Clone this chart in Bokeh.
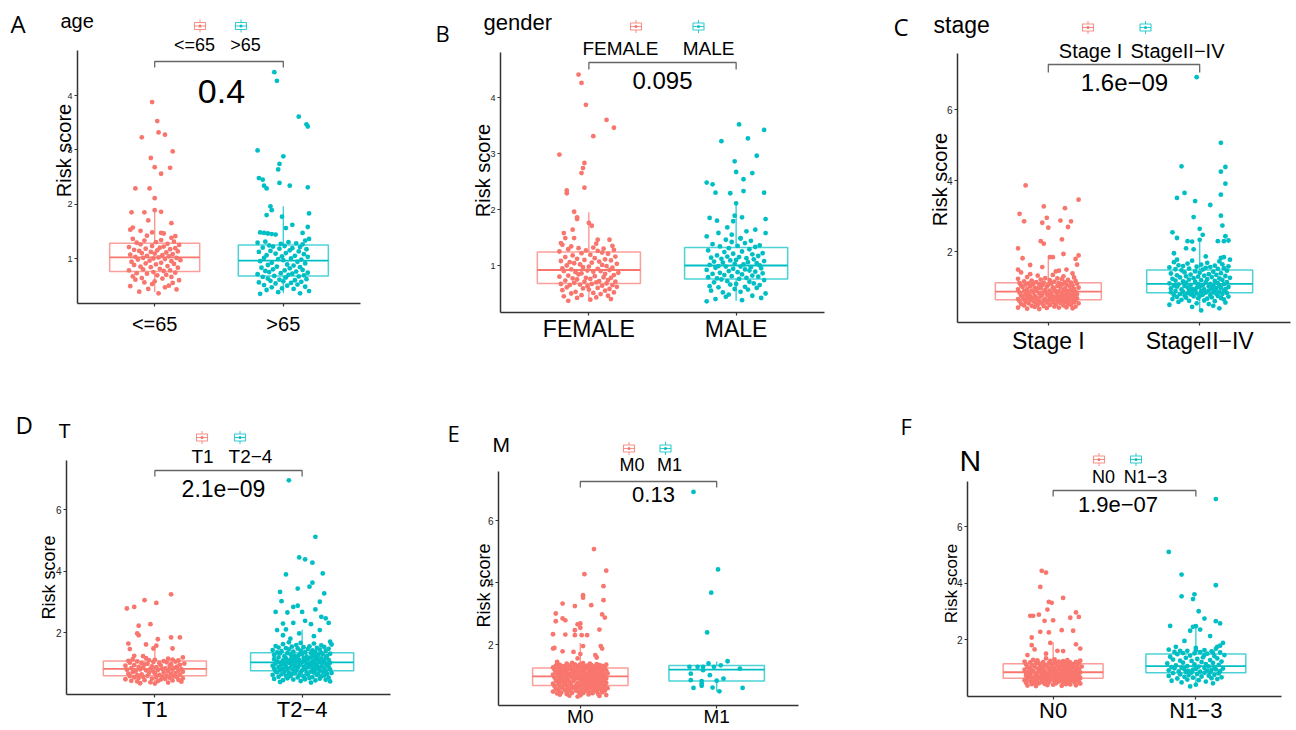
import math
from bokeh.plotting import figure
from bokeh.layouts import row, column
from bokeh.models import Range1d, FixedTicker, Label
from bokeh.embed import file_html
from bokeh.resources import INLINE

RED = "#F8766D"
TEAL = "#00BFC4"
AXIS = "#333333"
BRACKET = "#666666"
FONT = "Liberation Sans"
LETTER_FONT = "Open Sans"

# ------------------------------------------------------------------ data
# hand-typed horizontal jitter offsets (hundredths of a category unit)
JITTER = [3,-12,17,-5,8,-19,11,-2,14,-8,0,19,-15,6,-10,13,-17,2,9,-6,
          -14,16,-1,7,-20,12,-9,4,18,-3,-11,10,-16,1,15,-7,5,-18,13,-4,
          20,-13,8,-1,-9,17,3,-15,11,-6,6,-19,14,0,-10,9,-3,18,-12,2,
          -16,12,-7,16,4,-20,7,-2,19,-11,10,-14,1,15,-8,5,-17,13,-5,8,
          -12,3,17,-9,11,-18,0,14,-4,6,-15,19,-1,9,-13,16,-6,2,-19,12,
          -10,5,18,-3,7,-16,13,-8,1,-11,15,-2,10,-20,4,-14,17,-7,11,-5,
          20,-9,3,-17,8,-1,14,-12,6,-18,16,-4,0,12,-15,9,-6,19,-10,2,
          -13,7,-19,15,-3,11,-8,4,-16,18,-11,1,13,-5,9,-20,6,-2,17,-14,
          10,-7,3,-12,16,-18,5,-1,14,-9,8,-15,19,-4,0,12,-10,7,-17,2,
          -6,15,-13,11,-2,18,-8,4,-19,9,-5,13,-11,1,16,-16,6,-3,10,-7]

# ---- A: age
AGE_CATS = ["<=65", ">65"]
AGE_P = "0.4"
AGE_Q1 = [0.76, 0.68]
AGE_MED = [1.02, 0.96]
AGE_Q3 = [1.28, 1.25]
AGE_LO = [0.38, 0.36]
AGE_HI = [1.90, 1.96]
AGE_LE65_OUT_Y = [3.88,3.53,3.32,3.28,3.23,2.97,2.85,2.68,2.67,2.56,2.29,2.29,2.11,1.89,1.86,1.85,1.85,1.70,1.65,1.57,1.53,1.51,1.48,1.47,1.46,1.42,1.41]
AGE_LE65_OUT_DX = [-0.02,0.02,0.03,0.08,-0.10,0.14,-0.03,0.00,0.12,0.05,-0.15,-0.04,0.00,0.00,0.05,-0.18,-0.08,-0.05,0.13,-0.17,-0.19,-0.11,-0.02,0.05,0.07,-0.06,0.16]
AGE_LE65_CORE = [0.36,0.39,0.43,0.44,0.47,0.49,0.50,0.53,0.55,0.56,0.58,0.60,0.61,0.63,0.64,0.66,0.67,0.69,0.70,0.72,0.73,0.74,0.75,
                 0.77,0.78,0.78,0.80,0.81,0.83,0.84,0.85,0.86,0.88,0.89,0.90,0.91,0.92,0.94,0.95,0.96,0.97,0.98,0.99,1.00,1.01,1.01,1.02,
                 1.03,1.04,1.05,1.06,1.07,1.08,1.09,1.10,1.11,1.12,1.13,1.14,1.15,1.16,1.17,1.18,1.19,1.20,1.21,1.22,1.23,1.25,1.26,1.27,
                 1.29,1.30,1.31,1.33,1.34,1.36,1.38]
AGE_GT65_OUT_Y = [4.43,4.27,3.61,3.47,3.43,2.99,2.88,2.74,2.64,2.48,2.45,2.39,2.34,2.34,2.31,2.29,1.96,1.89,1.83,1.80,1.77,1.62,1.58,1.56,1.48,1.47,1.46,1.47,1.45,1.44,1.36]
AGE_GT65_OUT_DX = [-0.07,-0.05,0.12,0.18,0.19,-0.20,0.00,-0.03,-0.04,-0.19,-0.16,-0.03,-0.15,0.05,0.19,-0.13,-0.10,-0.09,0.20,-0.13,-0.01,0.07,0.19,0.02,-0.18,-0.15,-0.12,0.15,-0.09,-0.06,0.20]
AGE_GT65_CORE = [0.35,0.36,0.38,0.40,0.42,0.44,0.45,0.47,0.48,0.50,0.51,0.52,0.54,0.55,0.56,0.57,0.58,0.59,0.60,0.61,0.62,0.63,0.65,0.66,0.67,
                 0.68,0.69,0.70,0.71,0.72,0.73,0.74,0.75,0.76,0.77,0.78,0.79,0.80,0.82,0.83,0.84,0.85,0.87,0.88,0.89,0.91,0.92,0.94,0.95,
                 0.97,0.98,0.99,1.00,1.01,1.03,1.04,1.05,1.06,1.08,1.09,1.10,1.12,1.13,1.14,1.15,1.17,1.18,1.19,1.20,1.21,1.22,1.23,1.24,
                 1.26,1.27,1.28,1.29,1.30,1.31,1.33]

# ---- B: gender
GENDER_CATS = ["FEMALE", "MALE"]
GENDER_P = "0.095"
GENDER_Q1 = [0.68, 0.76]
GENDER_MED = [0.92, 1.00]
GENDER_Q3 = [1.24, 1.32]
GENDER_LO = [0.37, 0.37]
GENDER_HI = [1.95, 2.13]
FEMALE_OUT_Y = [4.41,4.26,3.87,3.60,3.46,3.31,2.98,2.83,2.74,2.65,2.39,2.34,2.29,1.96,1.86,1.83,1.76,1.71,1.64,1.58,1.49,1.49,1.46,1.46,1.40]
FEMALE_OUT_DX = [-0.07,-0.05,-0.02,0.12,0.17,0.03,-0.20,-0.03,-0.04,-0.05,-0.03,-0.15,-0.15,-0.10,-0.08,-0.08,0.00,0.02,-0.11,-0.17,-0.16,-0.10,0.06,0.14,-0.19]
FEMALE_CORE = [0.37,0.39,0.40,0.42,0.43,0.45,0.46,0.47,0.49,0.50,0.51,0.52,0.53,0.55,0.56,0.57,0.58,0.59,0.60,0.61,0.62,0.63,0.64,0.65,0.65,0.66,0.67,0.67,
               0.68,0.69,0.70,0.71,0.71,0.72,0.73,0.74,0.75,0.76,0.77,0.78,0.78,0.79,0.80,0.81,0.82,0.83,0.84,0.85,0.86,0.87,0.88,0.89,0.90,0.90,0.91,0.92,
               0.93,0.94,0.95,0.96,0.97,0.98,0.99,1.00,1.01,1.02,1.03,1.04,1.05,1.06,1.07,1.08,1.09,1.10,1.11,1.12,1.13,1.15,1.16,1.18,1.19,1.21,1.22,1.23,
               1.25,1.26,1.27,1.28,1.29,1.30,1.31,1.32,1.34,1.35,1.37,1.39]
MALE_OUT_Y = [3.52,3.42,3.27,3.22,2.96,2.86,2.67,2.65,2.54,2.48,2.45,2.33,2.30,2.30,2.29,2.11,1.89,1.86,1.85,1.83,1.80,1.79,1.68,1.64,1.61,1.58,1.58,1.55,1.52,1.48]
MALE_OUT_DX = [0.02,0.19,0.08,-0.10,0.14,-0.01,0.00,0.11,0.05,-0.20,-0.16,0.05,-0.14,0.19,-0.04,0.00,-0.01,0.04,-0.18,0.20,-0.13,-0.02,-0.06,0.13,0.07,0.20,-0.12,-0.03,-0.20,0.03]
MALE_CORE = [0.36,0.38,0.40,0.42,0.44,0.46,0.48,0.50,0.52,0.53,0.55,0.57,0.58,0.60,0.61,0.62,0.63,0.65,0.66,0.67,0.68,0.70,0.71,0.72,0.74,0.75,
             0.76,0.77,0.78,0.79,0.80,0.81,0.82,0.83,0.84,0.85,0.86,0.87,0.88,0.89,0.90,0.91,0.92,0.93,0.94,0.95,0.96,0.97,0.98,0.98,0.99,1.00,
             1.01,1.02,1.03,1.04,1.05,1.06,1.07,1.08,1.09,1.10,1.11,1.12,1.13,1.14,1.15,1.16,1.17,1.18,1.20,1.21,1.22,1.24,1.25,1.27,1.29,1.31,
             1.33,1.34,1.35,1.36,1.38,1.40,1.42,1.44,1.46,1.49]

# ---- C: stage
STAGE_CATS = ["Stage I", "StageII\u2212IV"]
STAGE_P = "1.6e\u221209"
STAGE_Q1 = [0.64, 0.84]
STAGE_MED = [0.87, 1.09]
STAGE_Q3 = [1.12, 1.48]
STAGE_LO = [0.39, 0.34]
STAGE_HI = [1.79, 2.31]
STAGE1_OUT_Y = [3.86,3.46,3.27,3.22,3.06,2.95,2.87,2.85,2.85,2.81,2.69,2.67,2.34,2.29,2.22,2.09,1.93,1.89,1.84,1.84,1.81,1.79,1.63,1.62,1.56,1.49,1.49,1.46]
STAGE1_OUT_DX = [-0.15,0.20,-0.03,0.11,-0.19,-0.01,0.08,-0.16,0.15,-0.04,0.13,0.00,0.09,-0.05,-0.03,-0.20,0.10,0.20,0.01,0.03,-0.17,0.18,0.19,-0.12,-0.04,-0.20,0.12,0.07]
STAGE1_CORE = [0.38,0.39,0.40,0.41,0.42,0.42,0.43,0.44,0.45,0.45,0.46,0.47,0.48,0.48,0.49,0.50,0.50,0.51,0.52,0.52,0.53,0.54,0.54,0.55,0.56,0.56,0.57,0.57,0.58,0.58,0.59,0.59,0.60,0.60,0.61,0.61,0.62,0.62,0.63,0.63,0.63,0.64,
               0.64,0.65,0.65,0.66,0.66,0.67,0.67,0.68,0.68,0.69,0.69,0.70,0.70,0.71,0.71,0.72,0.72,0.73,0.73,0.74,0.74,0.75,0.75,0.76,0.76,0.77,0.77,0.78,0.78,0.79,0.80,0.80,0.81,0.81,0.82,0.82,0.83,0.84,0.84,0.85,0.86,0.86,
               0.87,0.88,0.88,0.89,0.89,0.90,0.90,0.91,0.92,0.92,0.93,0.94,0.94,0.95,0.96,0.96,0.97,0.98,0.98,0.99,1.00,1.00,1.01,1.02,1.02,1.03,1.04,1.04,1.05,1.06,1.06,1.07,1.08,1.08,1.09,1.09,1.10,1.10,1.11,1.11,1.12,1.12,
               1.13,1.14,1.15,1.16,1.17,1.18,1.19,1.20,1.21,1.22,1.23,1.24,1.25,1.27,1.28,1.30,1.32,1.34,1.36,1.38,1.41,1.44]
STAGE24_OUT_Y = [6.91,5.06,4.40,4.38,4.25,3.91,3.65,3.60,3.51,3.42,3.31,3.01,2.97,2.73,2.64,2.54,2.47,2.43,2.38,2.33,2.31,2.29,2.29,2.29,2.28,2.09,2.06,1.95,1.86,1.84,1.82,1.77,1.77]
STAGE24_OUT_DX = [-0.02,0.14,-0.12,0.17,0.14,0.17,-0.10,0.14,-0.15,-0.03,0.07,0.14,-0.04,0.15,0.00,-0.18,0.02,0.17,-0.15,0.00,0.19,-0.08,0.12,0.16,-0.05,-0.09,-0.04,-0.17,0.04,0.16,0.14,0.20,-0.15]
STAGE24_CORE = [0.34,0.40,0.44,0.47,0.50,0.52,0.54,0.56,0.58,0.60,0.61,0.62,0.64,0.65,0.66,0.67,0.68,0.69,0.70,0.71,0.72,0.73,0.74,0.75,0.75,0.76,0.77,0.77,0.78,0.79,0.80,0.80,0.81,0.82,0.83,0.83,
                0.84,0.85,0.85,0.86,0.87,0.87,0.88,0.89,0.89,0.90,0.91,0.91,0.92,0.93,0.93,0.94,0.95,0.96,0.96,0.97,0.98,0.98,0.99,1.00,1.00,1.01,1.02,1.03,1.03,1.04,1.05,1.05,1.06,1.07,1.08,1.08,
                1.09,1.10,1.11,1.12,1.13,1.14,1.15,1.16,1.17,1.18,1.19,1.20,1.21,1.22,1.23,1.24,1.25,1.26,1.27,1.28,1.29,1.30,1.31,1.32,1.33,1.34,1.35,1.36,1.38,1.39,1.40,1.41,1.43,1.44,1.46,1.47,
                1.49,1.50,1.51,1.52,1.53,1.54,1.55,1.56,1.57,1.58,1.59,1.60,1.61,1.63,1.64,1.66,1.68,1.70,1.72,1.74]

# ---- D: T
T_CATS = ["T1", "T2\u22124"]
T_P = "2.1e\u221209"
T_Q1 = [0.59, 0.76]
T_MED = [0.82, 1.03]
T_Q3 = [1.07, 1.34]
T_LO = [0.34, 0.38]
T_HI = [1.60, 2.09]
T1_OUT_Y = [3.24,3.05,2.96,2.83,2.78,2.27,2.22,1.97,1.91,1.84,1.84,1.78,1.64,1.61,1.57,1.48,1.48,1.46,1.24,1.23]
T1_OUT_DX = [0.11,-0.07,0.01,-0.14,-0.19,-0.03,-0.11,-0.12,-0.11,0.11,0.17,0.02,-0.18,-0.06,0.01,-0.01,0.12,-0.17,-0.14,-0.08]
T1_CORE = [0.34,0.35,0.37,0.38,0.40,0.41,0.42,0.43,0.44,0.45,0.46,0.47,0.48,0.49,0.50,0.51,0.52,0.53,0.54,0.55,0.55,0.56,0.57,0.58,0.58,
           0.59,0.60,0.61,0.62,0.63,0.64,0.65,0.66,0.67,0.68,0.69,0.70,0.71,0.72,0.73,0.74,0.75,0.76,0.77,0.78,0.79,0.79,0.80,0.81,0.81,
           0.82,0.83,0.84,0.85,0.86,0.87,0.88,0.89,0.90,0.91,0.92,0.93,0.94,0.95,0.96,0.97,0.98,0.99,1.00,1.01,1.02,1.03,1.04,1.05,1.06,
           1.07,1.08,1.09,1.10,1.11,1.12,1.13,1.15,1.17,1.19]
T24_OUT_Y = [6.95,5.11,4.44,4.38,4.27,3.92,3.89,3.62,3.49,3.43,3.32,3.27,3.02,3.00,2.87,2.83,2.75,2.67,2.67,2.65,2.51,2.46,2.38,2.31,2.31,2.29,2.27,2.10,2.08,2.08,1.97,1.91,1.88,1.80,1.70]
T24_OUT_DX = [-0.09,0.09,-0.02,0.02,0.07,0.14,-0.11,0.07,0.05,-0.03,-0.15,0.15,-0.14,0.12,-0.03,-0.06,0.09,-0.18,0.00,-0.10,0.13,0.16,0.02,0.18,-0.06,-0.13,0.06,-0.11,-0.17,0.12,-0.02,-0.13,0.08,-0.08,0.19]
T24_CORE = [0.37,0.39,0.41,0.42,0.44,0.45,0.46,0.47,0.48,0.49,0.50,0.51,0.52,0.53,0.54,0.55,0.56,0.57,0.58,0.58,0.59,0.60,0.61,0.62,0.62,0.63,0.64,0.65,0.65,0.66,0.67,0.68,0.68,0.69,0.70,0.70,0.71,0.72,0.72,0.73,0.74,0.75,
            0.76,0.77,0.77,0.78,0.79,0.79,0.80,0.81,0.81,0.82,0.83,0.83,0.84,0.85,0.85,0.86,0.87,0.87,0.88,0.89,0.89,0.90,0.91,0.91,0.92,0.93,0.93,0.94,0.95,0.95,0.96,0.97,0.97,0.98,0.99,0.99,1.00,1.00,1.01,1.01,1.02,1.02,
            1.03,1.04,1.04,1.05,1.06,1.06,1.07,1.08,1.08,1.09,1.10,1.10,1.11,1.12,1.13,1.13,1.14,1.15,1.16,1.16,1.17,1.18,1.19,1.19,1.20,1.21,1.22,1.22,1.23,1.24,1.25,1.26,1.27,1.27,1.28,1.29,1.30,1.30,1.31,1.32,1.33,1.33,
            1.34,1.35,1.36,1.37,1.38,1.39,1.40,1.41,1.42,1.43,1.44,1.45,1.46,1.47,1.48,1.49,1.50,1.51,1.52,1.53,1.54,1.55,1.56,1.58,1.59,1.61,1.62,1.64,1.66,1.68]

# ---- E: M
M_CATS = ["M0", "M1"]
M_P = "0.13"
M_Q1 = [0.68, 0.82]
M_MED = [0.97, 1.19]
M_Q3 = [1.24, 1.32]
M_LO = [0.32, 0.48]
M_HI = [2.05, 1.45]
M0_OUT_Y = [5.08,4.38,4.27,3.88,3.59,3.51,3.43,3.32,3.27,3.24,3.00,2.97,2.87,2.84,2.78,2.75,2.68,2.65,2.54,2.48,2.46,2.33,2.32,2.30,2.30,2.30,1.95,1.95,1.89,1.87,1.87,1.78,1.76,1.69,1.66,1.58,1.55,1.44]
M0_OUT_DX = [0.10,0.19,0.03,0.17,0.02,0.02,0.17,-0.13,0.08,-0.04,-0.18,0.16,0.18,-0.13,-0.11,-0.18,0.00,-0.02,0.00,0.14,-0.04,-0.20,-0.11,-0.04,0.01,0.05,0.02,0.15,-0.19,-0.20,0.16,-0.13,-0.05,0.00,0.11,0.12,-0.02,-0.17]
M0_CORE = [0.32,0.34,0.35,0.36,0.37,0.38,0.39,0.40,0.41,0.42,0.43,0.43,0.44,0.45,0.46,0.46,0.47,0.48,0.49,0.49,0.50,0.51,0.51,0.52,0.53,0.53,0.54,0.55,0.55,0.56,0.57,0.57,0.58,0.59,0.59,0.60,0.61,0.61,0.62,0.63,0.63,0.64,0.64,0.65,0.66,0.66,0.67,0.67,
           0.68,0.69,0.69,0.70,0.70,0.71,0.72,0.72,0.73,0.73,0.74,0.75,0.75,0.76,0.76,0.77,0.78,0.78,0.79,0.79,0.80,0.81,0.81,0.82,0.82,0.83,0.84,0.84,0.85,0.85,0.86,0.87,0.87,0.88,0.88,0.89,0.90,0.90,0.91,0.91,0.92,0.93,0.93,0.94,0.94,0.95,0.96,0.96,
           0.97,0.98,0.98,0.99,0.99,1.00,1.00,1.01,1.02,1.02,1.03,1.03,1.04,1.04,1.05,1.06,1.06,1.07,1.07,1.08,1.08,1.09,1.10,1.10,1.11,1.11,1.12,1.12,1.13,1.14,1.14,1.15,1.15,1.16,1.16,1.17,1.18,1.18,1.19,1.19,1.20,1.20,1.21,1.22,1.22,1.23,1.23,1.24,
           1.24,1.25,1.25,1.26,1.26,1.27,1.27,1.28,1.28,1.29,1.29,1.30,1.30,1.31,1.31,1.32,1.32,1.33,1.33,1.34,1.34,1.35,1.36,1.36,1.37,1.38,1.38,1.39,1.40,1.41]
M1_OUT_Y = [6.92,4.42,3.67,2.39,1.46,1.39,1.33,1.28,1.28,1.28,1.28,1.22,1.17,1.06,1.01,0.90,0.85,0.83,0.82,0.74,0.67,0.61,0.60,0.60,0.49]
M1_OUT_DX = [-0.17,0.01,-0.04,-0.07,0.08,-0.06,0.03,-0.02,-0.20,-0.14,-0.10,0.17,-0.10,-0.19,-0.05,0.05,-0.19,0.00,-0.11,-0.11,-0.11,-0.03,-0.17,0.19,0.02]
M1_CORE = []

# ---- F: N
N_CATS = ["N0", "N1\u22123"]
N_P = "1.9e\u221207"
N_Q1 = [0.63, 0.82]
N_MED = [0.84, 1.06]
N_Q3 = [1.14, 1.49]
N_LO = [0.35, 0.34]
N_HI = [1.90, 2.50]
N0_OUT_Y = [4.43,4.37,3.86,3.47,3.33,3.30,3.06,2.96,2.88,2.84,2.84,2.80,2.77,2.68,2.66,2.33,2.31,2.27,2.25,2.07,1.88,1.83,1.80,1.68,1.65,1.60,1.59,1.50,1.45,1.33]
N0_OUT_DX = [-0.08,-0.05,-0.09,0.07,-0.03,-0.01,-0.04,0.16,-0.10,-0.16,-0.14,0.18,0.12,0.00,-0.06,0.06,0.14,-0.09,-0.03,-0.15,-0.02,0.16,-0.15,0.19,-0.13,0.03,0.07,-0.05,-0.18,-0.05]
N0_CORE = [0.35,0.36,0.37,0.38,0.39,0.40,0.41,0.42,0.42,0.43,0.44,0.45,0.45,0.46,0.47,0.47,0.48,0.49,0.49,0.50,0.51,0.51,0.52,0.53,0.53,0.54,0.55,0.55,0.56,0.56,0.57,0.57,0.58,0.58,0.59,0.59,0.60,0.60,0.61,0.61,0.62,0.62,
           0.63,0.63,0.64,0.64,0.65,0.65,0.66,0.66,0.67,0.67,0.68,0.68,0.69,0.69,0.70,0.70,0.71,0.71,0.72,0.72,0.73,0.73,0.74,0.74,0.75,0.75,0.76,0.76,0.77,0.77,0.78,0.78,0.79,0.79,0.80,0.80,0.81,0.81,0.82,0.82,0.83,0.83,
           0.84,0.85,0.85,0.86,0.87,0.87,0.88,0.89,0.89,0.90,0.91,0.91,0.92,0.93,0.93,0.94,0.95,0.95,0.96,0.97,0.98,0.98,0.99,1.00,1.00,1.01,1.02,1.02,1.03,1.04,1.05,1.05,1.06,1.07,1.08,1.08,1.09,1.10,1.11,1.11,1.12,1.13,
           1.14,1.15,1.15,1.16,1.17,1.17,1.18,1.19,1.19,1.20,1.21,1.22,1.22,1.23,1.24,1.25,1.26,1.27,1.28,1.30]
N13_OUT_Y = [6.97,5.10,4.30,3.92,3.60,3.53,3.43,3.00,2.74,2.65,2.57,2.48,2.47,2.45,2.35,2.31,2.12,1.95,1.88,1.78,1.74,1.74,1.62,1.60,1.53,1.45]
N13_OUT_DX = [0.14,-0.19,-0.10,0.14,-0.01,-0.10,-0.02,0.02,0.06,0.14,0.17,-0.18,0.00,-0.02,0.03,-0.04,0.10,-0.08,0.19,0.17,0.15,-0.14,0.00,-0.11,0.12,0.06]
N13_CORE = [0.34,0.40,0.45,0.48,0.51,0.54,0.56,0.58,0.60,0.62,0.63,0.65,0.66,0.68,0.69,0.71,0.72,0.74,0.75,0.77,0.78,0.80,0.81,
            0.82,0.83,0.84,0.85,0.86,0.87,0.88,0.89,0.90,0.91,0.92,0.93,0.94,0.95,0.96,0.97,0.98,0.99,1.00,1.01,1.02,1.04,1.05,
            1.06,1.08,1.10,1.12,1.13,1.15,1.17,1.18,1.20,1.22,1.24,1.25,1.27,1.29,1.31,1.33,1.35,1.37,1.39,1.41,1.43,1.45,1.48,
            1.50,1.51,1.52,1.54,1.55,1.56,1.58,1.60,1.62,1.64,1.67,1.70]

DATA = [
    dict(letter="A", title="age", cats=AGE_CATS, p=AGE_P, q1=AGE_Q1, med=AGE_MED, q3=AGE_Q3, lo=AGE_LO, hi=AGE_HI,
         groups=[(AGE_LE65_OUT_Y, AGE_LE65_OUT_DX, AGE_LE65_CORE, 0), (AGE_GT65_OUT_Y, AGE_GT65_OUT_DX, AGE_GT65_CORE, 37)]),
    dict(letter="B", title="gender", cats=GENDER_CATS, p=GENDER_P, q1=GENDER_Q1, med=GENDER_MED, q3=GENDER_Q3, lo=GENDER_LO, hi=GENDER_HI,
         groups=[(FEMALE_OUT_Y, FEMALE_OUT_DX, FEMALE_CORE, 71), (MALE_OUT_Y, MALE_OUT_DX, MALE_CORE, 113)]),
    dict(letter="C", title="stage", cats=STAGE_CATS, p=STAGE_P, q1=STAGE_Q1, med=STAGE_MED, q3=STAGE_Q3, lo=STAGE_LO, hi=STAGE_HI,
         groups=[(STAGE1_OUT_Y, STAGE1_OUT_DX, STAGE1_CORE, 19), (STAGE24_OUT_Y, STAGE24_OUT_DX, STAGE24_CORE, 151)]),
    dict(letter="D", title="T", cats=T_CATS, p=T_P, q1=T_Q1, med=T_MED, q3=T_Q3, lo=T_LO, hi=T_HI,
         groups=[(T1_OUT_Y, T1_OUT_DX, T1_CORE, 53), (T24_OUT_Y, T24_OUT_DX, T24_CORE, 89)]),
    dict(letter="E", title="M", cats=M_CATS, p=M_P, q1=M_Q1, med=M_MED, q3=M_Q3, lo=M_LO, hi=M_HI,
         groups=[(M0_OUT_Y, M0_OUT_DX, M0_CORE, 7), (M1_OUT_Y, M1_OUT_DX, M1_CORE, 0)]),
    dict(letter="F", title="N", cats=N_CATS, p=N_P, q1=N_Q1, med=N_MED, q3=N_Q3, lo=N_LO, hi=N_HI,
         groups=[(N0_OUT_Y, N0_OUT_DX, N0_CORE, 127), (N13_OUT_Y, N13_OUT_DX, N13_CORE, 173)]),
]

# ------------------------------------------------------------------ layout (page pixels)
# axis = (y-axis x, x-axis right end, x-axis y, y-axis top); text tuples give baseline positions
LAYOUT = [
    dict(fig=(0, 0, 420, 395), axis=(77, 360, 303, 50), xr=(0.4, 2.6), ppu=54.33, ref=(1, 258),
         yticks=[1, 2, 3, 4], ytick_fs="9px",
         letter=(10, 32, 24), title=(60, 28, 20), icons=((199.5, 25.5), (240.5, 25.5)),
         leg=((194, 51), (245, 51), 18), bracket=(61, 67), pval=(221, 103, 34), risk=(63, 150, 20),
         xlab=(20, 6)),
    dict(fig=(420, 0, 440, 395), axis=(500, 824, 312, 52), xr=(0.4, 2.6), ppu=56.0, ref=(1, 265),
         yticks=[1, 2, 3, 4], ytick_fs="9px",
         letter=(435, 40, 22), title=(483, 30, 22), icons=((635.5, 26), (698, 26)),
         leg=((620, 55), (708, 55), 19), bracket=(62, 69), pval=(662, 89, 24), risk=(482, 170, 20),
         xlab=(23, 0)),
    dict(fig=(860, 0, 435, 395), axis=(957, 1290, 322, 53), xr=(0.4, 2.6), ppu=35.5, ref=(2, 251),
         yticks=[2, 4, 6], ytick_fs="10px",
         letter=(893, 35, 24), title=(933, 33, 23), icons=((1087.5, 27), (1145, 27)),
         leg=((1090, 58), (1177, 58), 20), bracket=(64, 72), pval=(1124, 91, 24), risk=(939, 179, 20),
         xlab=(23, 2)),
    dict(fig=(0, 395, 420, 334), axis=(66, 390, 694, 460), xr=(0.4, 2.6), ppu=30.75, ref=(2, 632),
         yticks=[2, 4, 6], ytick_fs="10px",
         letter=(15, 433, 24), title=(58, 438, 20), icons=((201.5, 437), (239.5, 437)),
         leg=((202, 463), (250, 463), 19), bracket=(470, 476), pval=(223, 496, 23), risk=(48, 577, 18),
         xlab=(22, -1)),
    dict(fig=(420, 395, 440, 334), axis=(498, 798, 705, 471), xr=(0.4, 2.6), ppu=31.0, ref=(2, 644),
         yticks=[2, 4, 6], ytick_fs="10px",
         letter=(447, 440, 22), title=(492, 452, 21), icons=((628.5, 448), (665, 448)),
         leg=((631.5, 471), (669, 471), 18), bracket=(481, 487), pval=(653, 502, 22), risk=(483, 585, 18),
         xlab=(19, -3)),
    dict(fig=(860, 395, 435, 334), axis=(967, 1281, 696, 481), xr=(0.4, 2.6), ppu=28.25, ref=(2, 639),
         yticks=[2, 4, 6], ytick_fs="10px",
         letter=(900, 433, 22), title=(959, 471, 30), icons=((1098.5, 459), (1135.5, 459)),
         leg=((1103, 483), (1145, 483), 18), bracket=(490, 496), pval=(1117.5, 512, 22), risk=(951, 583, 17),
         xlab=(22, -2)),
]

COLORS = [RED, TEAL]
CATS_X = [1, 2]
HALF_BOX = 0.35
BASELINE_SHIFT = 0.36   # label anchor sits this many ems above the glyph baseline


def make_panel(L, D):
    fx, fy, W, H = L["fig"]
    AL, AR, AB, AT = L["axis"]
    ppu = L["ppu"]
    rv, rpx = L["ref"]
    x0, x1 = L["xr"]
    sx = (AR - AL) / (x1 - x0)

    def X(px):
        return x0 + (px - AL) / sx

    def Y(py):
        return rv + (rpx - py) / ppu

    p = figure(width=W, height=H, x_range=Range1d(X(fx), X(fx + W)), y_range=Range1d(Y(fy + H), Y(fy)),
               output_backend="svg", toolbar_location=None, title=None,
               min_border_left=0, min_border_right=0, min_border_top=0, min_border_bottom=0)
    p.outline_line_color = None
    p.xgrid.visible = False
    p.ygrid.visible = False
    p.background_fill_color = "white"
    p.border_fill_color = "white"

    # axes drawn at their own locations inside the plot area
    p.yaxis.fixed_location = X(AL)
    p.xaxis.fixed_location = Y(AB)
    p.yaxis.ticker = FixedTicker(ticks=L["yticks"])
    p.yaxis.bounds = (Y(AB), Y(AT))
    p.xaxis.ticker = FixedTicker(ticks=CATS_X)
    p.xaxis.bounds = (X(AL), X(AR))
    for ax in (p.xaxis[0], p.yaxis[0]):
        ax.axis_line_color = AXIS
        ax.axis_line_width = 1.5
        ax.major_tick_line_color = AXIS
        ax.major_tick_line_width = 1.2
        ax.major_tick_in = 0
        ax.minor_tick_line_color = None
    p.yaxis.major_tick_out = 3
    p.yaxis.major_label_standoff = 2
    p.yaxis.major_label_text_font_size = L["ytick_fs"]
    p.yaxis.major_label_text_font = FONT
    p.yaxis.major_label_text_color = "#222222"
    xfs, xsd = L["xlab"]
    p.xaxis.major_tick_out = 3
    p.xaxis.major_label_overrides = {1: D["cats"][0], 2: D["cats"][1]}
    p.xaxis.major_label_text_font_size = f"{xfs}px"
    p.xaxis.major_label_text_font = FONT
    p.xaxis.major_label_text_color = "black"
    p.xaxis.major_label_standoff = xsd

    # boxes
    lefts = [c - HALF_BOX for c in CATS_X]
    rights = [c + HALF_BOX for c in CATS_X]
    p.segment(x0=CATS_X + CATS_X, y0=D["q3"] + D["q1"], x1=CATS_X + CATS_X, y1=D["hi"] + D["lo"],
              line_color=COLORS + COLORS, line_width=1.4, line_alpha=0.75)
    p.quad(left=lefts, right=rights, bottom=D["q1"], top=D["q3"], fill_color=None,
           line_color=COLORS, line_width=1.5, line_alpha=0.7)
    p.segment(x0=lefts, x1=rights, y0=D["med"], y1=D["med"], line_color=COLORS, line_width=1.8)

    # jittered points
    nj = len(JITTER)
    for gi, (out_y, out_dx, core, shift) in enumerate(D["groups"]):
        c = CATS_X[gi]
        xs = [c + d for d in out_dx] + [c + JITTER[(i + shift) % nj] / 100.0 for i in range(len(core))]
        ys = list(out_y) + list(core)
        p.scatter(x=xs, y=ys, size=4.8, fill_color=COLORS[gi], line_color=None)

    # significance bracket
    bar, leg = L["bracket"]
    p.line(x=[1, 1, 2, 2], y=[Y(leg), Y(bar), Y(bar), Y(leg)], line_color=BRACKET, line_width=1.3)

    # legend keys
    for (cx, cy), col in zip(L["icons"], COLORS):
        p.quad(left=[X(cx - 5.5)], right=[X(cx + 5.5)], top=[Y(cy - 3.5)], bottom=[Y(cy + 3.5)],
               fill_color=None, line_color=col, line_width=1.1, line_alpha=0.8)
        p.segment(x0=[X(cx), X(cx)], x1=[X(cx), X(cx)], y0=[Y(cy - 3.5), Y(cy + 3.5)], y1=[Y(cy - 6.5), Y(cy + 6.5)],
                  line_color=col, line_width=1.0, line_alpha=0.8)
        p.segment(x0=[X(cx - 5.5)], x1=[X(cx + 5.5)], y0=[Y(cy)], y1=[Y(cy)], line_color=col, line_width=1.0, line_alpha=0.8)
        p.scatter(x=[X(cx)], y=[Y(cy)], size=3, fill_color=col, line_color=None)

    def txt(text, px, py, size, align="left", font=FONT):
        # py is the glyph baseline in page pixels
        p.add_layout(Label(x=X(px), y=Y(py - BASELINE_SHIFT * size), text=text, text_align=align,
                           text_baseline="alphabetic", text_font=font, text_font_size=f"{size}px",
                           text_color="black"))

    lx, ly, ls = L["letter"]
    txt(D["letter"], lx, ly, ls, font=LETTER_FONT)
    tx, ty, ts = L["title"]
    txt(D["title"], tx, ty, ts)
    (ax_, ay_), (bx_, by_), lfs = L["leg"]
    txt(D["cats"][0], ax_, ay_, lfs, align="center")
    txt(D["cats"][1], bx_, by_, lfs, align="center")
    px_, py_, pfs = L["pval"]
    txt(D["p"], px_, py_, pfs, align="center")
    rx, ry, rfs = L["risk"]
    p.add_layout(Label(x=X(rx), y=Y(ry), text="Risk score", text_align="center", text_baseline="middle",
                       text_font=FONT, text_font_size=f"{rfs}px", text_color="black", angle=math.pi / 2))
    return p


plots = [make_panel(L, D) for L, D in zip(LAYOUT, DATA)]
layout = column(row(plots[0], plots[1], plots[2]), row(plots[3], plots[4], plots[5]))

open("out.html", "w").write(file_html(layout, INLINE))
